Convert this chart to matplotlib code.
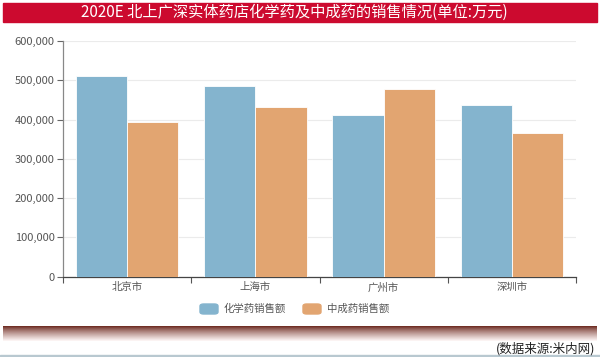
import numpy as np
import matplotlib.pyplot as plt
from matplotlib.patches import Rectangle, FancyBboxPatch
from matplotlib.ticker import FuncFormatter, FixedLocator

plt.rcParams['font.family'] = ['Noto Sans CJK SC', 'DejaVu Sans']

cities = ['北京市', '上海市', '广州市', '深圳市']
chem = [510000, 485000, 411000, 438000]
tcm = [395000, 433000, 478000, 365000]
series_names = ['化学药销售额', '中成药销售额']
title = '2020E 北上广深实体药店化学药及中成药的销售情况(单位:万元)'
source = '(数据来源:米内网)'

blue = '#84b4ce'
orange = '#e2a571'

fig = plt.figure(figsize=(6, 3.57), dpi=100)
ax = fig.add_axes([0.105, 0.225, 0.855, 0.66])

x = np.arange(len(cities))
w = 0.4
ax.bar(x - w / 2, chem, w, color=blue, edgecolor='white', linewidth=0.6, zorder=3)
ax.bar(x + w / 2, tcm, w, color=orange, edgecolor='white', linewidth=0.6, zorder=3)

ax.set_xlim(-0.5, len(cities) - 0.5)
ax.set_ylim(0, 600000)
ax.set_yticks(np.arange(0, 600001, 100000))
ax.yaxis.set_major_formatter(FuncFormatter(lambda v, p: f'{int(v):,}'))
ax.grid(axis='y', color='#ebebeb', linewidth=0.8, zorder=0)

ax.xaxis.set_major_locator(FixedLocator(np.arange(-0.5, len(cities), 1.0)))
ax.set_xticklabels([])
ax.set_xticks(x, minor=True)
ax.set_xticklabels(cities, minor=True)
ax.tick_params(axis='x', which='major', length=4, color='#555555', width=0.8)
ax.tick_params(axis='x', which='minor', length=0, labelsize=7.5, labelcolor='#555555', pad=4)
ax.tick_params(axis='y', length=4, color='#666666', width=0.8, labelsize=8, labelcolor='#555555', pad=2)

for s in ['top', 'right']:
    ax.spines[s].set_visible(False)
ax.spines['left'].set_color('#888888')
ax.spines['bottom'].set_color('#444444')
ax.spines['left'].set_linewidth(0.9)
ax.spines['bottom'].set_linewidth(0.9)

# title band
fig.patches.append(Rectangle((3 / 600, 1 - 22 / 357), 594 / 600, 19 / 357,
                             transform=fig.transFigure, color='#cc0a2f', zorder=0))
fig.text(0.49, 1 - 12.5 / 357, title, color='white', fontsize=11,
         ha='center', va='center')

# legend
for i, (name, c) in enumerate(zip(series_names, [blue, orange])):
    x0 = 200 + i * 103
    fig.patches.append(FancyBboxPatch((x0 / 600, 1 - 314 / 357), 18 / 600, 10 / 357,
                                      boxstyle='round,pad=0,rounding_size=0.006',
                                      transform=fig.transFigure, color=c))
    fig.text((x0 + 24) / 600, 1 - 309 / 357, name, fontsize=7.5, color='#555555',
             va='center', ha='left')

# gradient band
gax = fig.add_axes([3 / 600, 1 - 341 / 357, 594 / 600, 15 / 357])
grad = np.linspace(0, 1, 50).reshape(-1, 1) ** 0.8
top = np.array([0x6a, 0x26, 0x1c]) / 255
bot = np.array([1.0, 0.97, 0.97])
img = top[None, None, :] * (1 - grad[..., None]) + bot[None, None, :] * grad[..., None]
gax.imshow(img, aspect='auto', extent=[0, 1, 0, 1])
gax.axis('off')

fig.text(595 / 600, 1 - 348.5 / 357, source, fontsize=9, color='#222222',
         ha='right', va='center')
fig.patches.append(Rectangle((0, 0), 1, 2 / 357, transform=fig.transFigure,
                             color='#b8c8d0', zorder=0))

fig.savefig('out.png', dpi=100)
